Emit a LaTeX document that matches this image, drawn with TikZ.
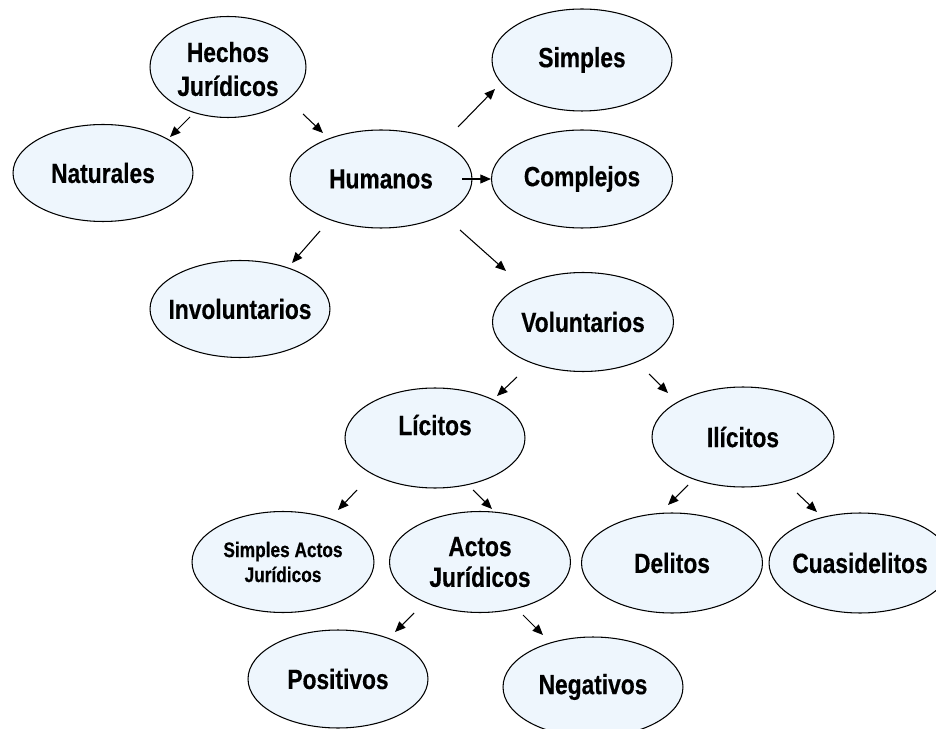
\documentclass[tikz,border=0pt]{standalone}
\usepackage{fontspec}
\setmainfont{Liberation Sans}[FakeStretch=0.82, BoldFeatures={FakeBold=0.4}]
\usetikzlibrary{shapes.geometric,arrows.meta}
\definecolor{ellfill}{RGB}{238,246,253}
\tikzset{
  ell/.style={ellipse, draw=black, line width=0.6pt, fill=ellfill, inner sep=0pt},
  every label/.style={align=center, inner sep=0pt, font=\bfseries\fontsize{15.8}{19.3}\selectfont},
  smalltext/.style={font=\bfseries\fontsize{12}{14.2}\selectfont},
  arr/.style={line width=0.6pt, -{Triangle[length=6pt,width=5pt]}}
}
\begin{document}
\begin{tikzpicture}[x=0.02cm,y=-0.02cm]
\clip (0,0) rectangle (936,729);
\fill[white] (0,0) rectangle (936,729);
% nodes
\node[ell, minimum width=3.12cm, minimum height=2.02cm, label={[yshift=-0.04cm]center:Hechos\\Jurídicos}] (hechos) at (228,67) {};
\node[ell, minimum width=3.6cm, minimum height=1.94cm, label={center:Naturales}] (naturales) at (103,173) {};
\node[ell, minimum width=3.64cm, minimum height=1.96cm, label={center:Humanos}] (humanos) at (381,179) {};
\node[ell, minimum width=3.6cm, minimum height=2.04cm, label={center:Simples}] (simples) at (582,60) {};
\node[ell, minimum width=3.62cm, minimum height=1.96cm, label={center:Complejos}] (complejos) at (582,179) {};
\node[ell, minimum width=3.6cm, minimum height=1.94cm, label={center:Involuntarios}] (involuntarios) at (240,309) {};
\node[ell, minimum width=3.62cm, minimum height=1.98cm, label={center:Voluntarios}] (voluntarios) at (583,322) {};
\node[ell, minimum width=3.6cm, minimum height=2.0cm, label={[yshift=0.26cm]center:Lícitos}] (licitos) at (435,438) {};
\node[ell, minimum width=3.64cm, minimum height=2.0cm, label={center:Ilícitos}] (ilicitos) at (743,437) {};
\node[ell, minimum width=3.64cm, minimum height=2.02cm, label={[smalltext]center:Simples Actos\\Jurídicos}] (sactos) at (283,562) {};
\node[ell, minimum width=3.62cm, minimum height=2.02cm, label={[font=\bfseries\fontsize{15.8}{17.5}\selectfont]center:Actos\\Jurídicos}] (actos) at (480,562) {};
\node[ell, minimum width=3.62cm, minimum height=2.0cm, label={center:Delitos}] (delitos) at (672,563) {};
\node[ell, minimum width=3.64cm, minimum height=2.0cm, label={center:Cuasidelitos}] (cuasi) at (860,563) {};
\node[ell, minimum width=3.6cm, minimum height=1.96cm, label={center:Positivos}] (positivos) at (338,679) {};
\node[ell, minimum width=3.6cm, minimum height=2.0cm, label={center:Negativos}] (negativos) at (593,687) {};
% arrow end points
\coordinate (a1s) at (190,117); \coordinate (a1e) at (170,137);
\coordinate (a2s) at (303,114); \coordinate (a2e) at (323,133);
\coordinate (a3s) at (458,127); \coordinate (a3e) at (495,89);
\coordinate (a4s) at (462,179); \coordinate (a4e) at (491,179);
\coordinate (a5s) at (320,231); \coordinate (a5e) at (292,263);
\coordinate (a6s) at (460,230); \coordinate (a6e) at (506,271);
\coordinate (a7s) at (517,377); \coordinate (a7e) at (497,396);
\coordinate (a8s) at (649,374); \coordinate (a8e) at (668,393);
\coordinate (a9s) at (357,490); \coordinate (a9e) at (338,510);
\coordinate (a10s) at (473,490); \coordinate (a10e) at (492,509);
\coordinate (a11s) at (414,613); \coordinate (a11e) at (395,632);
\coordinate (a12s) at (523,615); \coordinate (a12e) at (543,635);
\coordinate (a13s) at (688,485); \coordinate (a13e) at (668,505);
\coordinate (a14s) at (797,493); \coordinate (a14e) at (817,512);
\foreach \i in {1,...,14} \draw[arr] (a\i s) -- (a\i e);
\end{tikzpicture}
\end{document}
